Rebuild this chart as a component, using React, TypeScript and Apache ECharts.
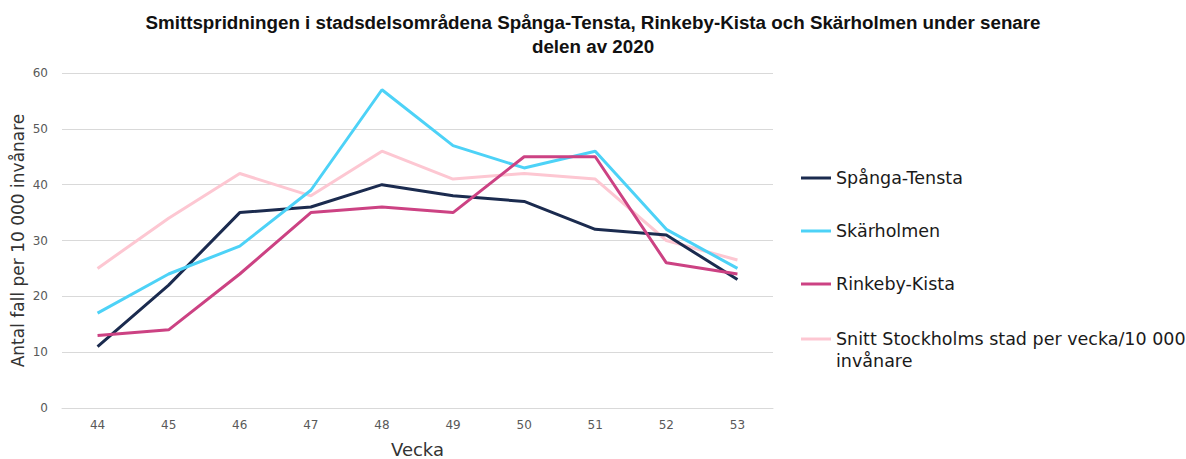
import React, { useEffect, useRef } from "react";
import * as echarts from "echarts";

const weeks = ["44", "45", "46", "47", "48", "49", "50", "51", "52", "53"];
const spangaTensta = [11, 22, 35, 36, 40, 38, 37, 32, 31, 23];
const skarholmen = [17, 24, 29, 39, 57, 47, 43, 46, 32, 25];
const rinkebyKista = [13, 14, 24, 35, 36, 35, 45, 45, 26, 24];
const snittStockholm = [25, 34, 42, 38, 46, 41, 42, 41, 30, 26.5];

const seriesNames = [
  "Spånga-Tensta",
  "Skärholmen",
  "Rinkeby-Kista",
  "Snitt Stockholms stad per vecka/10 000 invånare",
];
const seriesData = [spangaTensta, skarholmen, rinkebyKista, snittStockholm];
const colors = ["#1b2b4f", "#4dd2f7", "#cc4283", "#fdc7d2"];

const FONT = "DejaVu Sans";

export default function App() {
  const ref = useRef<HTMLDivElement>(null);
  useEffect(() => {
    if (!ref.current) return;
    const chart = echarts.init(ref.current, undefined, { renderer: "svg" });
    const legendTops = [162, 215, 268, 301];
    const legends = seriesNames.map((name, i) => ({
      show: true,
      left: 796,
      top: legendTops[i],
      orient: "vertical",
      icon: "rect",
      itemWidth: 30,
      itemHeight: 3,
      itemGap: 0,
      selectedMode: false,
      data: [name],
      formatter: (n: string) =>
        n === seriesNames[3] ? "\nSnitt Stockholms stad per vecka/10 000\ninvånare" : n,
      textStyle: {
        fontFamily: FONT,
        fontSize: 17.5,
        color: "#1a1a1a",
        lineHeight: 22,
      },
    }));
    chart.setOption({
      animation: false,
      backgroundColor: "#ffffff",
      color: colors,
      title: {
        text: "Smittspridningen i stadsdelsområdena Spånga-Tensta, Rinkeby-Kista och Skärholmen under senare\ndelen av 2020",
        left: "center",
        top: 5,
        textStyle: {
          fontFamily: "Liberation Sans",
          fontWeight: "bold",
          fontSize: 18.8,
          lineHeight: 24,
          color: "#111111",
        },
      },
      legend: legends,
      grid: { left: 62, right: 413, top: 73, bottom: 51, outerBoundsMode: "none", containLabel: false },
      xAxis: {
        type: "category",
        data: weeks,
        boundaryGap: true,
        name: "Vecka",
        nameLocation: "middle",
        nameGap: 32,
        nameMoveOverlap: false,
        nameTextStyle: { fontFamily: FONT, fontSize: 18, color: "#333333" },
        axisLine: { lineStyle: { color: "#d9d9d9", width: 1 } },
        axisTick: { show: false },
        axisLabel: { fontFamily: FONT, fontSize: 12, color: "#595959", margin: 11 },
      },
      yAxis: {
        type: "value",
        min: 0,
        max: 60,
        interval: 10,
        name: "Antal fall per 10 000 invånare",
        nameLocation: "middle",
        nameGap: 36,
        nameMoveOverlap: false,
        nameTextStyle: { fontFamily: FONT, fontSize: 17, color: "#333333" },
        axisLine: { show: false },
        axisTick: { show: false },
        axisLabel: { fontFamily: FONT, fontSize: 12, color: "#595959", margin: 14 },
        splitLine: { lineStyle: { color: "#d9d9d9", width: 1 } },
      },
      series: seriesNames.map((name, i) => ({
        name,
        type: "line",
        data: seriesData[i],
        symbol: "none",
        lineStyle: { width: 3, color: colors[i] },
        itemStyle: { color: colors[i] },
        z: i === 3 ? 1 : 2,
      })),
    });
    return () => chart.dispose();
  }, []);
  return (
    <div
      ref={ref}
      style={{ position: "fixed", left: 0, top: 0, width: 1186, height: 459 }}
    />
  );
}
